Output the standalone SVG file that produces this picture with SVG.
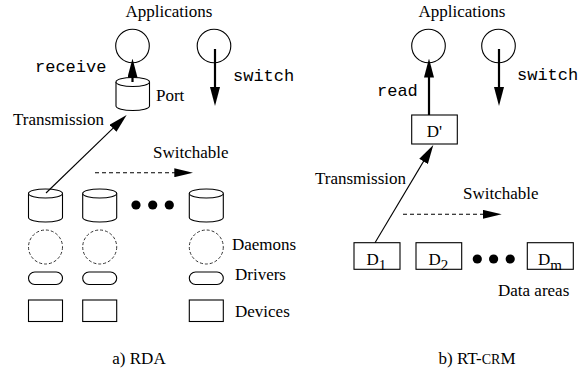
<svg xmlns="http://www.w3.org/2000/svg" width="578" height="370" viewBox="0 0 578 370">
<style>
.t{font-family:"Liberation Serif","Times New Roman",serif;font-size:17px;fill:#000}
.m{font-family:"Liberation Mono","Courier New",monospace;font-size:17px;fill:#000}
.s{fill:#fff;stroke:#000;stroke-width:1.1}
.d{fill:none;stroke:#333;stroke-width:1;stroke-dasharray:3,2}
.thick{stroke:#000;stroke-width:2.2;fill:none}
.thin{stroke:#000;stroke-width:1.1;fill:none}
.dash{stroke:#000;stroke-width:1.1;fill:none;stroke-dasharray:4,3}
.dot{fill:#000}
</style>
<defs>
<marker id="ah" markerUnits="userSpaceOnUse" markerWidth="19" markerHeight="10" refX="11" refY="5" orient="auto">
<path d="M0,0 L19,5 L0,10 z" fill="#000"/>
</marker>
<marker id="ahs" markerUnits="userSpaceOnUse" markerWidth="19" markerHeight="9" refX="11" refY="4.5" orient="auto">
<path d="M0,0 L19,4.5 L0,9 z" fill="#000"/>
</marker>
</defs>

<!-- Left: RDA -->
<text class="t" x="169" y="17" text-anchor="middle">Applications</text>
<g id="appL1"><circle class="s" cx="132.5" cy="46" r="16.8"/></g>
<g id="appL2"><circle class="s" cx="214" cy="46" r="16.8"/></g>
<g id="port">
<path class="s" d="M116,82 V106 A16.75,4.5 0 0 0 149.5,106 V82"/>
<ellipse class="s" cx="132.75" cy="82" rx="16.75" ry="4.5"/>
<text class="t" x="156" y="101">Port</text>
</g>
<text class="m" x="35" y="72">receive</text>
<text class="m" x="233" y="81">switch</text>
<text class="t" x="13" y="125">Transmission</text>
<text class="t" x="153" y="158">Switchable</text>

<g id="cyl1">
<path class="s" d="M28.5,193.5 V217.5 A17,4.5 0 0 0 62.5,217.5 V193.5"/>
<ellipse class="s" cx="45.5" cy="193.5" rx="17" ry="4.5"/>
</g>
<g id="cyl2">
<path class="s" d="M82.7,193.5 V217.5 A17,4.5 0 0 0 116.7,217.5 V193.5"/>
<ellipse class="s" cx="99.7" cy="193.5" rx="17" ry="4.5"/>
</g>
<g id="cyl3">
<path class="s" d="M189.3,193.5 V217.5 A17,4.5 0 0 0 223.3,217.5 V193.5"/>
<ellipse class="s" cx="206.3" cy="193.5" rx="17" ry="4.5"/>
</g>
<g id="dotsL">
<circle class="dot" cx="136" cy="205" r="4.6"/>
<circle class="dot" cx="152.7" cy="205" r="4.6"/>
<circle class="dot" cx="169.3" cy="205" r="4.6"/>
</g>
<g id="daemon1"><circle class="d" cx="45.5" cy="247" r="17"/></g>
<g id="daemon2"><circle class="d" cx="99.7" cy="247" r="17"/></g>
<g id="daemon3"><circle class="d" cx="206.3" cy="247" r="17"/></g>
<g id="driver1"><rect class="s" x="28.5" y="272" width="34" height="12.5" rx="6.25"/></g>
<g id="driver2"><rect class="s" x="82.7" y="272" width="34" height="12.5" rx="6.25"/></g>
<g id="driver3"><rect class="s" x="189.3" y="272" width="34" height="12.5" rx="6.25"/></g>
<g id="device1"><rect class="s" x="28.5" y="300" width="34" height="21.5"/></g>
<g id="device2"><rect class="s" x="82.7" y="300" width="34" height="21.5"/></g>
<g id="device3"><rect class="s" x="189.3" y="300" width="34" height="21.5"/></g>
<text class="t" x="232" y="250">Daemons</text>
<text class="t" x="235" y="280">Drivers</text>
<text class="t" x="235" y="316.5">Devices</text>
<text class="t" x="139" y="364" text-anchor="middle">a) RDA</text>

<!-- Right: RT-CRM -->
<text class="t" x="462" y="17" text-anchor="middle">Applications</text>
<g id="appR1"><circle class="s" cx="428.5" cy="46" r="16.8"/></g>
<g id="appR2"><circle class="s" cx="498.5" cy="46" r="16.8"/></g>
<g id="dprime">
<rect class="s" x="411.7" y="115" width="45.6" height="29"/>
<text class="t" x="434.5" y="137" text-anchor="middle">D'</text>
</g>
<text class="m" x="377" y="96">read</text>
<text class="m" x="517" y="80">switch</text>
<text class="t" x="315" y="184">Transmission</text>
<text class="t" x="463" y="199">Switchable</text>
<g id="d1">
<rect class="s" x="354" y="242.7" width="46" height="26.6"/>
<text class="t" x="366.5" y="265">D<tspan font-size="15" dy="5">1</tspan></text>
</g>
<g id="d2">
<rect class="s" x="416" y="242.7" width="45.7" height="26.6"/>
<text class="t" x="428.5" y="265">D<tspan font-size="15" dy="5">2</tspan></text>
</g>
<g id="dotsR">
<circle class="dot" cx="477.3" cy="259" r="4.6"/>
<circle class="dot" cx="493.6" cy="259" r="4.6"/>
<circle class="dot" cx="510.2" cy="259" r="4.6"/>
</g>
<g id="dm">
<rect class="s" x="527.3" y="242.7" width="46" height="26.6"/>
<text class="t" x="538" y="265">D<tspan font-size="15" dy="5">m</tspan></text>
</g>
<text class="t" x="498" y="296">Data areas</text>
<text class="t" x="477" y="364" text-anchor="middle">b) RT-<tspan font-size="14">CR</tspan>M</text>

<g id="connectors">
<path class="thick" d="M132.5,82 V66.5" marker-end="url(#ah)"/>
<path class="thick" d="M215,49 V98" marker-end="url(#ah)"/>
<path class="thin" d="M46,193 L120.9,120.6" marker-end="url(#ah)"/>
<path class="dash" d="M95,172.7 H185.3" marker-end="url(#ahs)"/>
<path class="thick" d="M429,115 V66.5" marker-end="url(#ah)"/>
<path class="thick" d="M499,49 V98" marker-end="url(#ah)"/>
<path class="thin" d="M375,242.7 L429.2,151.9" marker-end="url(#ah)"/>
<path class="dash" d="M403,214.3 H493.7" marker-end="url(#ahs)"/>
</g>
</svg>
